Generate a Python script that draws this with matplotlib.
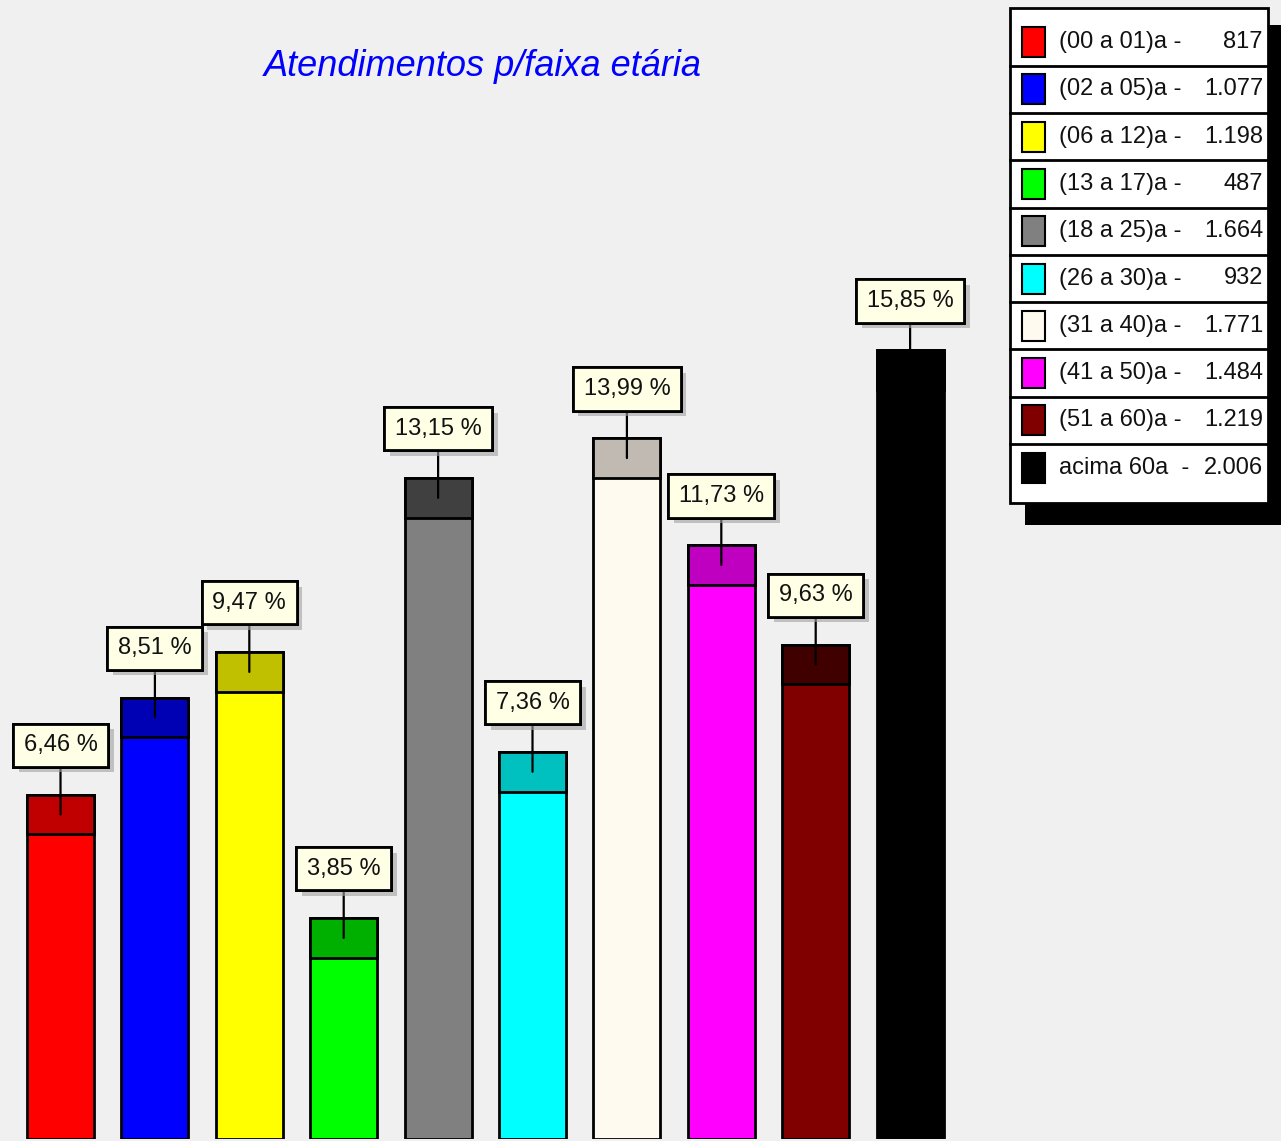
import matplotlib
matplotlib.use('Agg')
import matplotlib.pyplot as plt
from matplotlib.patches import Rectangle
import matplotlib.patheffects as pe

# Data
faixas = ['(00 a 01)a -', '(02 a 05)a -', '(06 a 12)a -', '(13 a 17)a -', '(18 a 25)a -',
          '(26 a 30)a -', '(31 a 40)a -', '(41 a 50)a -', '(51 a 60)a -', 'acima 60a  -']
atendimentos = [817, 1077, 1198, 487, 1664, 932, 1771, 1484, 1219, 2006]
percentuais = [6.46, 8.51, 9.47, 3.85, 13.15, 7.36, 13.99, 11.73, 9.63, 15.85]
cores = ['#ff0000', '#0000ff', '#ffff00', '#00ff00', '#808080',
         '#00ffff', '#fffaf0', '#ff00ff', '#800000', '#000000']
cores_topo = ['#c00000', '#0000b4', '#c0c000', '#00b000', '#404040',
              '#00c0c0', '#c0bab2', '#c000c0', '#400000', '#000000']

W, H = 1281, 1141
bg = '#f0f0f0'
fonte = ['Liberation Sans', 'DejaVu Sans']

fig = plt.figure(figsize=(W / 100, H / 100), dpi=100, facecolor=bg)

# main axes: bars
ax = fig.add_axes([0, 2 / H, 1, 1 - 2 / H])
ax.set_facecolor(bg)
ax.set_xlim(-0.641, 12.929)
ax.set_ylim(-0.82, 23.25)
ax.axis('off')

base = -0.82
topo = 0.845  # height of the darker top band
x = list(range(len(percentuais)))
ax.bar(x, [p - base for p in percentuais], bottom=base, width=0.71,
       color=cores, edgecolor='black', linewidth=2, zorder=2)
ax.bar(x, [topo] * len(x), bottom=[p - topo for p in percentuais], width=0.71,
       color=cores_topo, edgecolor='black', linewidth=2, zorder=3)

for i, p in enumerate(percentuais):
    txt = ('%.2f %%' % p).replace('.', ',')
    ann = ax.annotate(txt, xy=(i, p - 0.42), xytext=(i, p + 1.04),
                      ha='center', va='center', fontsize=17, family=fonte,
                      color='#111111', zorder=5,
                      bbox=dict(boxstyle='square,pad=0.45', fc='#ffffe6', ec='black', lw=2),
                      arrowprops=dict(arrowstyle='-', color='black', lw=1.6,
                                      shrinkA=0, shrinkB=0))
    ann.get_bbox_patch().set_path_effects([
        pe.withSimplePatchShadow(offset=(4, -4), shadow_rgbFace='#a0a0a0', alpha=0.6),
        pe.Normal()])

# overlay in pixel coordinates: title and legend
ov = fig.add_axes([0, 0, 1, 1])
ov.set_xlim(0, W)
ov.set_ylim(H, 0)
ov.axis('off')
ov.patch.set_alpha(0)

ov.text(483, 67, 'Atendimentos p/faixa etária', ha='center', va='center',
        fontsize=26, fontstyle='italic', color='#0000ff', family=fonte)

# legend box with shadow
ov.add_patch(Rectangle((1025, 25), 270, 500, fc='black', ec='none', zorder=1))
ov.add_patch(Rectangle((1010, 8), 258, 495, fc='white', ec='black', lw=2, zorder=2))
y0, dy = 42, 47.3
for k, (lab, n) in enumerate(zip(faixas, atendimentos)):
    yc = y0 + k * dy
    if k > 0:
        ov.plot([1010, 1268], [yc - dy / 2, yc - dy / 2], color='black', lw=2, zorder=3)
    ov.add_patch(Rectangle((1022, yc - 15), 23, 30, fc=cores[k], ec='black', lw=1.5, zorder=3))
    ov.text(1059, yc, lab, ha='left', va='center', fontsize=17, family=fonte,
            color='#111111', zorder=4)
    ov.text(1263, yc, '{:,}'.format(n).replace(',', '.'), ha='right', va='center',
            fontsize=17, family=fonte, color='#111111', zorder=4)

fig.savefig('out.png', dpi=100, facecolor=bg)
